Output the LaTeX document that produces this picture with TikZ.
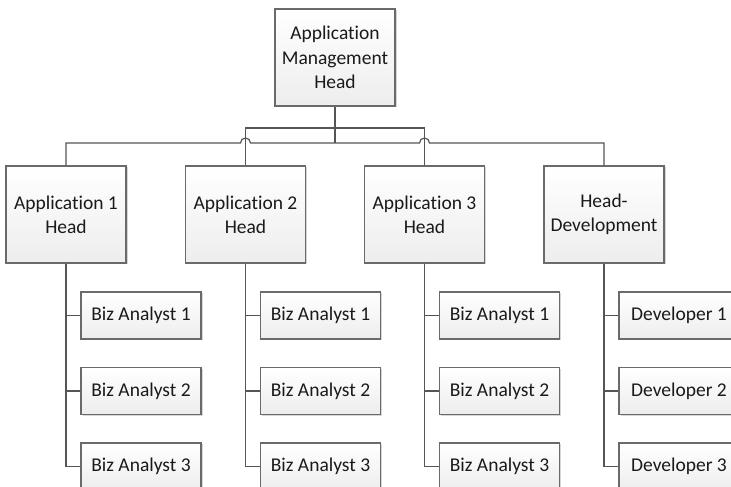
\documentclass[tikz,border=0pt]{standalone}
\usepackage{fontspec}
\setmainfont{Carlito}[RawFeature={-liga}]
\usetikzlibrary{shadows}
\definecolor{boxline}{HTML}{6A6A6A}
\definecolor{connline}{HTML}{555555}
\definecolor{boxtext}{HTML}{1A1A1A}
\tikzset{
  orgbox/.style={draw=boxline, line width=1.1pt, top color=white, bottom color=black!7,
    drop shadow={shadow xshift=1.5pt, shadow yshift=-1.5pt, fill=black!16, opacity=1},
    text=boxtext, align=center, inner sep=2pt,
    font=\fontsize{19.5}{24.3}\selectfont},
  headbox/.style={orgbox, minimum width=120pt, minimum height=97pt},
  staffbox/.style={orgbox, minimum width=120pt, minimum height=47pt},
  conn/.style={draw=connline, line width=1.2pt}
}
\begin{document}
\begin{tikzpicture}[x=1pt,y=1pt]
\useasboundingbox (0,0) rectangle (731,487);
\clip (0,0) rectangle (731,487);
\fill[white] (0,0) rectangle (731,487);

% management head
\node[headbox] (top) at (335,429.5) {Application\\Management\\Head};

% second level
\node[headbox] (a1) at (66,272.5)    {Application 1\\Head};
\node[headbox] (a2) at (245.5,272.5) {Application 2\\Head};
\node[headbox] (a3) at (424.5,272.5) {Application 3\\Head};
\node[headbox] (hd) at (604,272.5)   {Head-\\Development};

% staff under each head
\foreach \p/\lab in {a1/Biz Analyst, a2/Biz Analyst, a3/Biz Analyst, hd/Developer}{
  \foreach \k/\yy in {1/171.5, 2/96, 3/20.5}{
    \path (\p.center) ++(75,0) coordinate (tmp);
    \node[staffbox] (\p s\k) at (tmp |- 0,\yy) {\lab\ \k};
  }
}

% buses between the management head and the second level
\coordinate (jlow) at (335,344);
\coordinate (jup) at (335,359);
\draw[conn] (top.south) -- (jlow);
\draw[conn] (a1.north) |- (240.5,344) arc[start angle=180,end angle=0,radius=5]
  -- (419.5,344) arc[start angle=180,end angle=0,radius=5] -| (hd.north);
\draw[conn] (a2.north) |- (jup) -| (a3.north);

% lines from each head down to its staff
\foreach \p in {a1,a2,a3,hd}{
  \draw[conn] (\p.south) |- (\p s3.west);
  \draw[conn] (\p.south) |- (\p s1.west);
  \draw[conn] (\p.south) |- (\p s2.west);
}
\end{tikzpicture}
\end{document}
